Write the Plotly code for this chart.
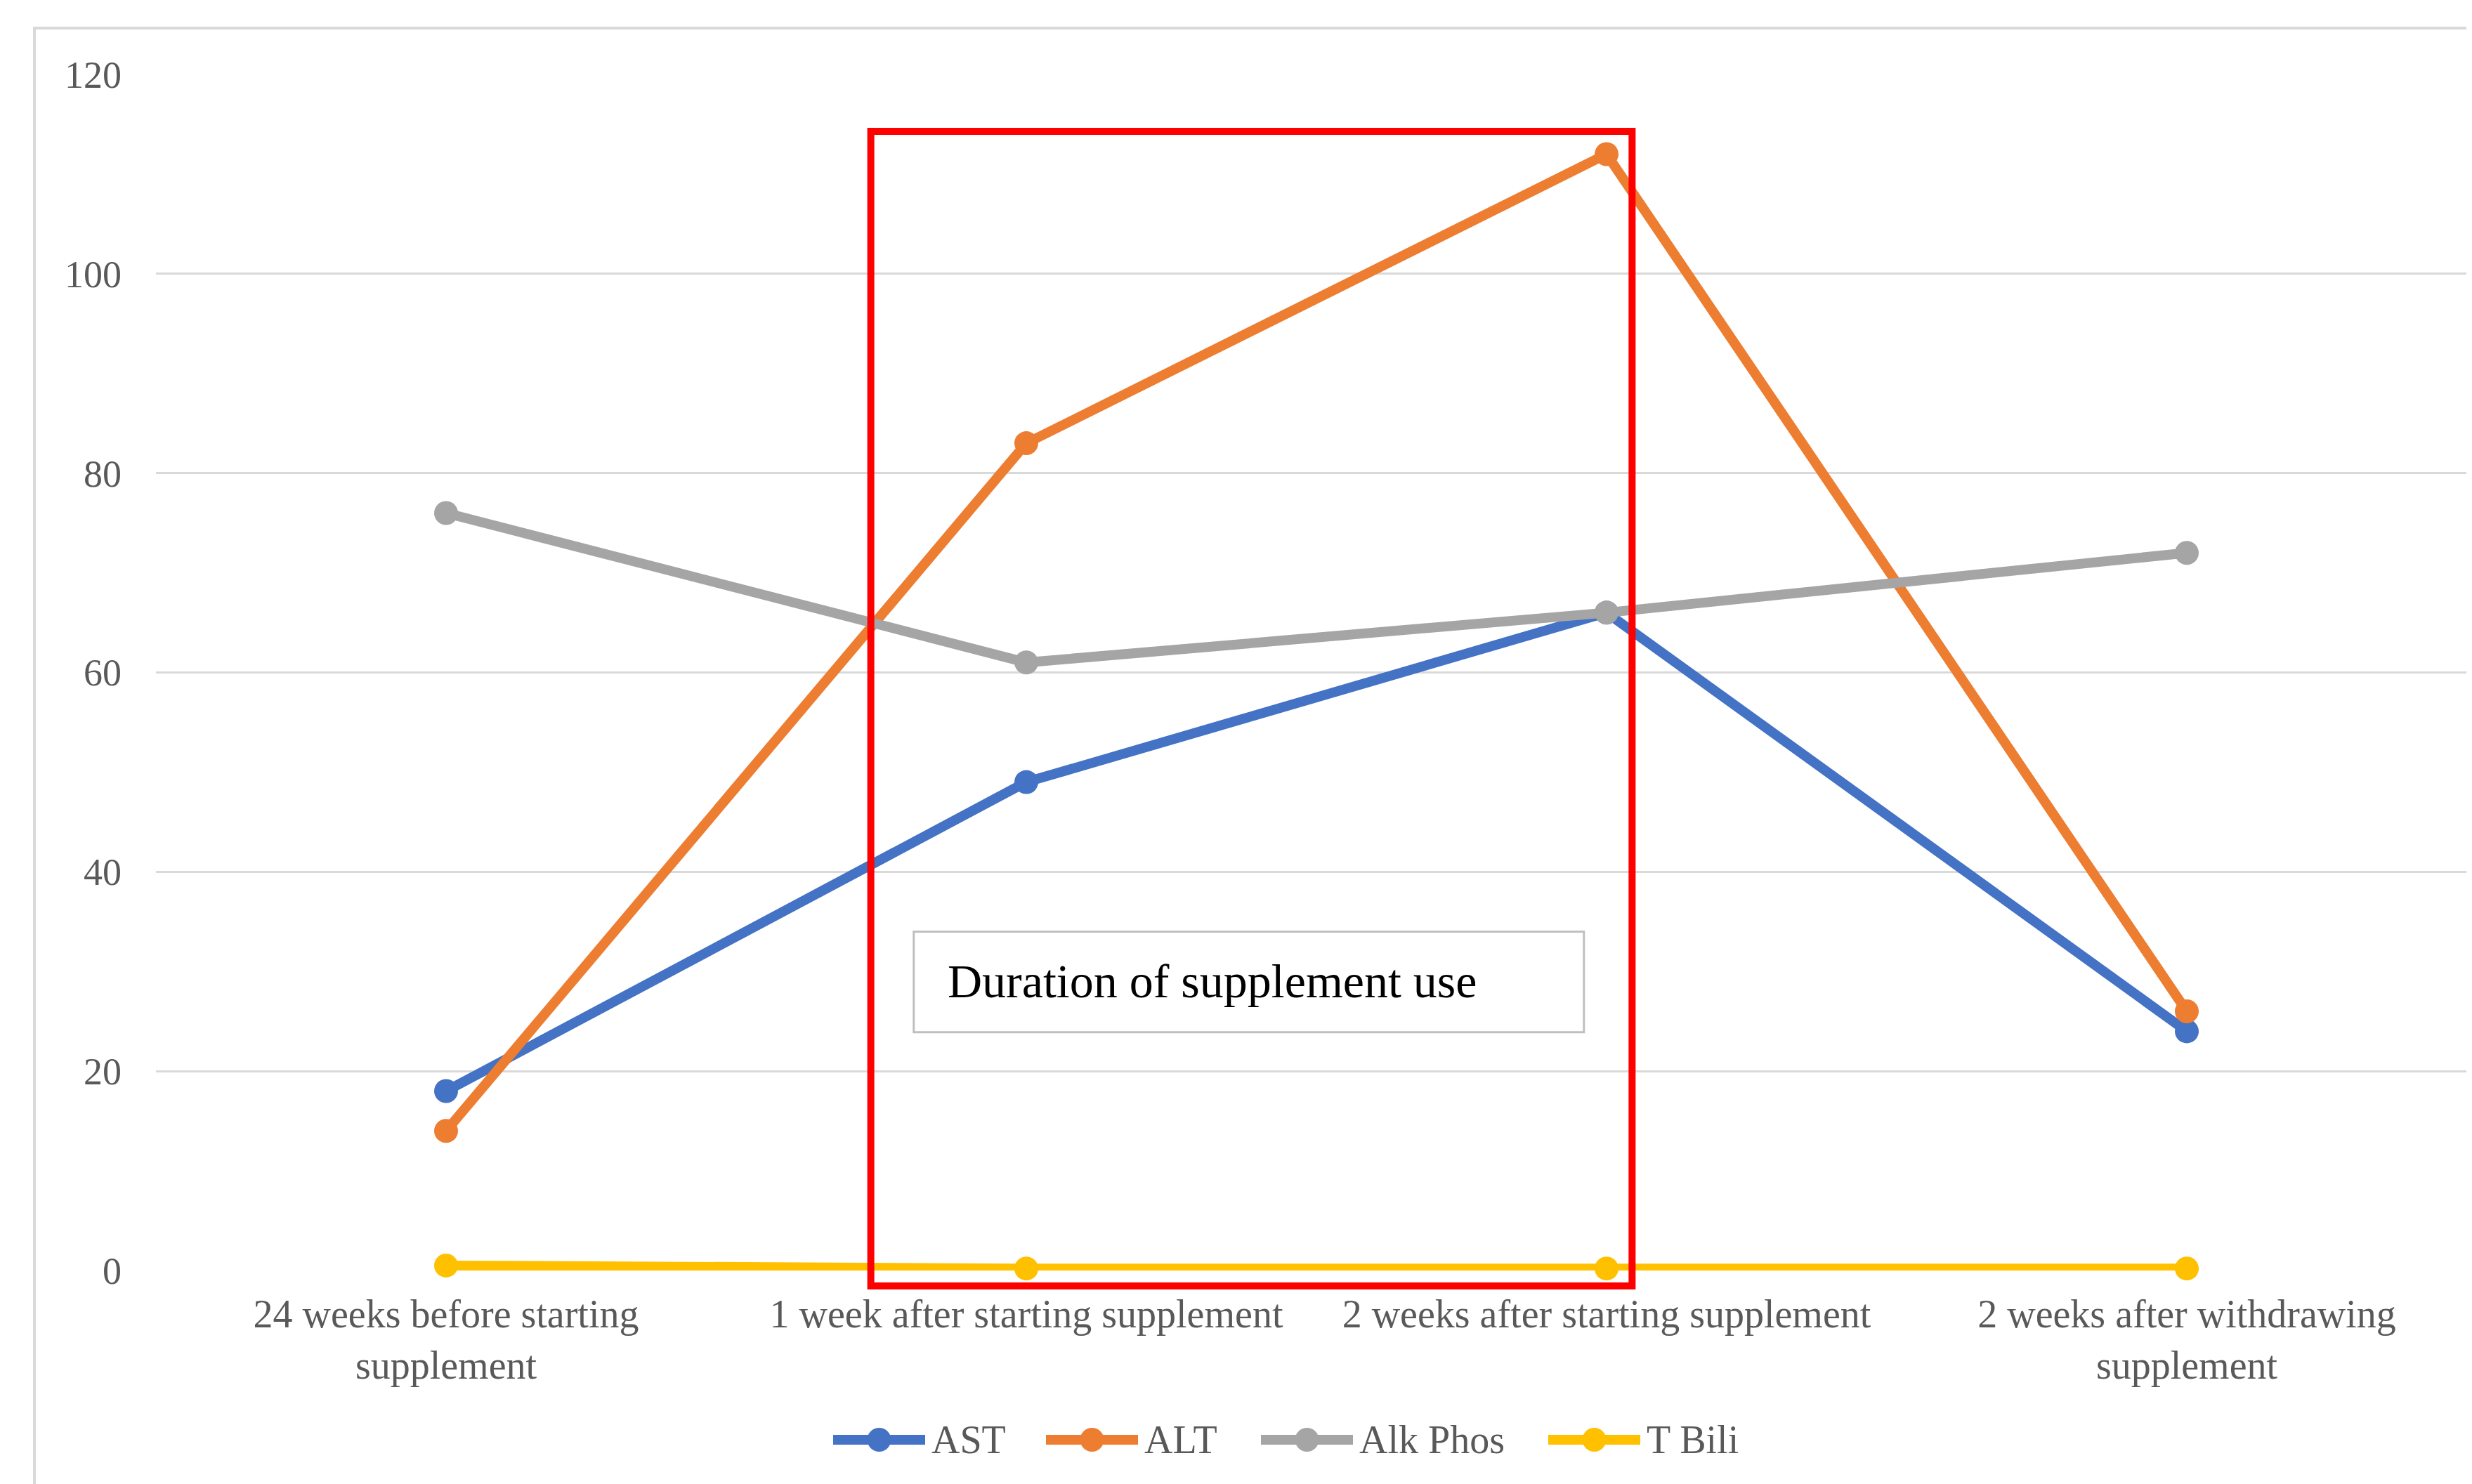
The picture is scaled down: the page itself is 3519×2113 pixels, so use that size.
import plotly.graph_objects as go

# ---- data ----
categories = [
    "24 weeks before starting<br>supplement",
    "1 week after starting supplement",
    "2 weeks after starting supplement",
    "2 weeks after withdrawing<br>supplement",
]
ast = [18, 49, 66, 24]
alt = [14, 83, 112, 26]
alk_phos = [76, 61, 66, 72]
t_bili = [0.5, 0.2, 0.2, 0.2]
series_names = ["AST", "ALT", "Alk Phos", "T Bili"]
series_values = [ast, alt, alk_phos, t_bili]
series_colors = ["#4472C4", "#ED7D31", "#A5A5A5", "#FFC000"]
y_ticks = [0, 20, 40, 60, 80, 100, 120]
box_label = "Duration of supplement use"

# ---- geometry (screen coords; page body has an 8px margin) ----
OFF = 8
SW, SH = 3519, 2113
W, H = SW - OFF, SH - OFF
PLOT_L, PLOT_T, PLOT_B = 222, 106, 1809   # screen px
L = PLOT_L - OFF
T = PLOT_T - OFF
B = SH - PLOT_B
R = 0
PW, PH = W - L - R, H - T - B
XR = [-0.5, -0.5 + PW / 826.0]
YR = [0, 120]
FONT = "Liberation Serif"
GREY_TXT = "#595959"
LW, MS = 14, 34

def px_x(px):
    return (px - PLOT_L) / PW

def px_y(py):
    return (PLOT_B - py) / PH

def dx(v):
    return (v - XR[0]) / (XR[1] - XR[0])

def dy(v):
    return (v - YR[0]) / (YR[1] - YR[0])

fig = go.Figure()
x_idx = list(range(len(categories)))
for name, vals, col in zip(series_names, series_values, series_colors):
    fig.add_trace(go.Scatter(
        x=x_idx, y=vals, name=name, mode="lines+markers",
        line=dict(color=col, width=LW),
        marker=dict(color=col, size=MS),
        cliponaxis=False, showlegend=False,
    ))

shapes = []
# outer chart-area border (extends past the picture edges)
shapes.append(dict(type="rect", xref="paper", yref="paper",
                   x0=px_x(49), x1=px_x(SW + 40), y0=px_y(SH + 40), y1=px_y(40),
                   line=dict(color="#D9D9D9", width=4), layer="below"))
# red highlight box (in data units, converted)
shapes.append(dict(type="rect", xref="paper", yref="paper",
                   x0=dx(0.732), x1=dx(2.044), y0=dy(-1.55), y1=dy(114.3),
                   line=dict(color="#FF0000", width=10), layer="above"))
# text box
shapes.append(dict(type="rect", xref="paper", yref="paper",
                   x0=dx(0.806), x1=dx(1.961), y0=dy(23.9), y1=dy(34.0),
                   fillcolor="white", line=dict(color="#BFBFBF", width=3), layer="above"))

annotations = [dict(xref="paper", yref="paper", x=dx(0.806) + 46 / PW, y=dy(29.0),
                    xanchor="left", yanchor="middle", showarrow=False,
                    text=box_label, font=dict(family=FONT, size=68, color="black"))]

# custom legend
leg_starts = [1186, 1489, 1795, 2204]
leg_y = 2050
for name, col, sx in zip(series_names, series_colors, leg_starts):
    shapes.append(dict(type="line", xref="paper", yref="paper",
                       x0=px_x(sx), x1=px_x(sx + 131), y0=px_y(leg_y), y1=px_y(leg_y),
                       line=dict(color=col, width=LW)))
    cx = sx + 65.5
    r = MS / 2
    shapes.append(dict(type="circle", xref="paper", yref="paper",
                       x0=px_x(cx - r), x1=px_x(cx + r), y0=px_y(leg_y + r), y1=px_y(leg_y - r),
                       fillcolor=col, line=dict(color=col, width=0)))
    annotations.append(dict(xref="paper", yref="paper", x=px_x(sx + 138), y=px_y(leg_y),
                            xanchor="left", yanchor="middle", showarrow=False, text=name,
                            font=dict(family=FONT, size=56, color=GREY_TXT)))

fig.update_layout(
    width=W, height=H,
    margin=dict(l=L, r=R, t=T, b=B, autoexpand=False),
    paper_bgcolor="white", plot_bgcolor="white",
    font=dict(family=FONT, size=56, color=GREY_TXT),
    shapes=shapes, annotations=annotations,
    showlegend=False,
)
fig.update_xaxes(range=XR, tickvals=x_idx, ticktext=categories, showgrid=False,
                 zeroline=False, showline=False, ticks="", ticklabelstandoff=24,
                 tickfont=dict(family=FONT, size=56, color=GREY_TXT))
fig.update_yaxes(range=YR, tickvals=y_ticks, showgrid=True, gridcolor="#D9D9D9", gridwidth=3,
                 zeroline=False, showline=False, ticks="", ticklabelstandoff=48,
                 tickfont=dict(family=FONT, size=54, color=GREY_TXT))

fig.write_html("out.html")
